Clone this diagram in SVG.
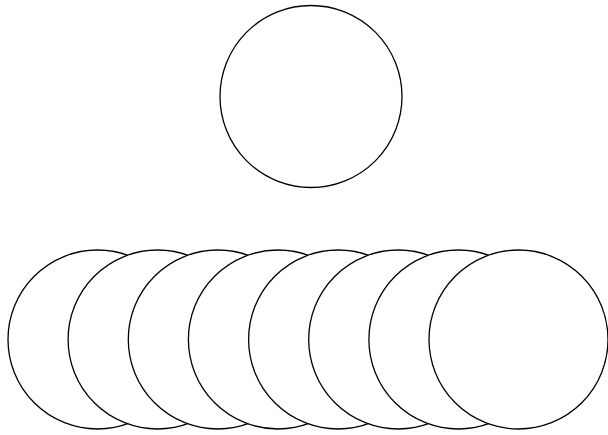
<svg xmlns="http://www.w3.org/2000/svg" width="608" height="435" viewBox="0 0 608 435">
<style>
.c{fill:#fff;stroke:#000;stroke-width:1.3}
</style>
<rect width="608" height="435" fill="#fff"/>
<g id="top"><circle class="c" cx="311" cy="96.5" r="91"/></g>
<g id="n1"><circle class="c" cx="97.5" cy="339.5" r="89.5"/></g>
<g id="n2"><circle class="c" cx="157.6" cy="339.5" r="89.5"/></g>
<g id="n3"><circle class="c" cx="217.8" cy="339.5" r="89.5"/></g>
<g id="n4"><circle class="c" cx="277.9" cy="339.5" r="89.5"/></g>
<g id="n5"><circle class="c" cx="338.1" cy="339.5" r="89.5"/></g>
<g id="n6"><circle class="c" cx="398.2" cy="339.5" r="89.5"/></g>
<g id="n7"><circle class="c" cx="458.4" cy="339.5" r="89.5"/></g>
<g id="n8"><circle class="c" cx="518.5" cy="339.5" r="89.5"/></g>
<g id="connectors"></g>
</svg>
